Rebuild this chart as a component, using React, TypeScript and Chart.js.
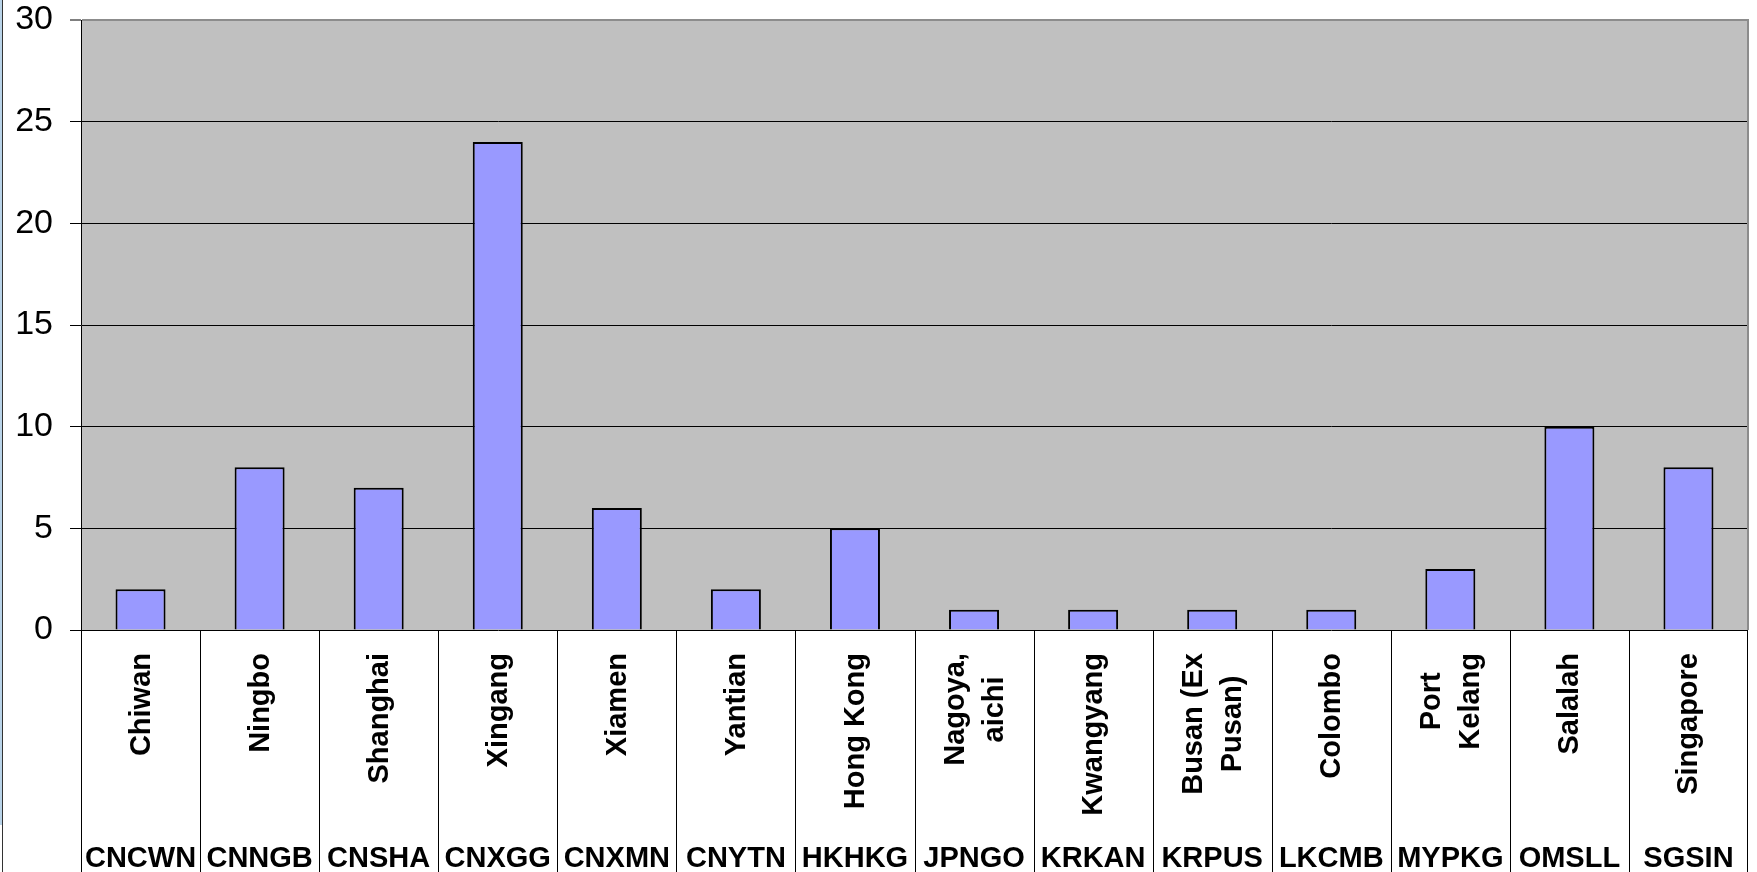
import React, { useEffect, useRef } from "react";
import { Chart, registerables } from "chart.js";

Chart.register(...registerables);

// Port names (line breaks split the rotated label into lines)
const portNames: string[] = [
  "Chiwan",
  "Ningbo",
  "Shanghai",
  "Xingang",
  "Xiamen",
  "Yantian",
  "Hong Kong",
  "Nagoya,\naichi",
  "Kwangyang",
  "Busan (Ex\nPusan)",
  "Colombo",
  "Port\nKelang",
  "Salalah",
  "Singapore",
];

// UN/LOCODE for each port
const portCodes: string[] = [
  "CNCWN",
  "CNNGB",
  "CNSHA",
  "CNXGG",
  "CNXMN",
  "CNYTN",
  "HKHKG",
  "JPNGO",
  "KRKAN",
  "KRPUS",
  "LKCMB",
  "MYPKG",
  "OMSLL",
  "SGSIN",
];

const callCounts: number[] = [2, 8, 7, 24, 6, 2, 5, 1, 1, 1, 1, 3, 10, 8];

const yTicks: number[] = [0, 5, 10, 15, 20, 25, 30];

const FONT = "'Liberation Sans', Arial, sans-serif";

const frameAndLabels = {
  id: "frameAndLabels",
  beforeDraw(chart: any) {
    const { ctx, chartArea } = chart;
    ctx.save();
    ctx.fillStyle = "#C0C0C0";
    ctx.fillRect(
      chartArea.left,
      chartArea.top,
      chartArea.right - chartArea.left,
      chartArea.bottom - chartArea.top
    );
    ctx.restore();
  },
  afterDraw(chart: any) {
    const { ctx, chartArea, height } = chart;
    const xs = chart.scales.x;
    const n = portNames.length;
    ctx.save();

    // right edge of the plot frame
    ctx.strokeStyle = "#8C8C8C";
    ctx.lineWidth = 2;
    ctx.beginPath();
    ctx.moveTo(chartArea.right, chartArea.top - 1);
    ctx.lineTo(chartArea.right, chartArea.bottom);
    ctx.stroke();

    // category separators below the axis
    const bounds: number[] = [];
    for (let i = 0; i <= n; i++) {
      let x: number;
      if (i === 0) x = chartArea.left;
      else if (i === n) x = chartArea.right;
      else x = (xs.getPixelForValue(i - 1) + xs.getPixelForValue(i)) / 2;
      bounds.push(x);
    }
    ctx.strokeStyle = "#000";
    ctx.lineWidth = 1;
    bounds.forEach((x, i) => {
      const px = Math.round(x) + (i === n ? -0.5 : 0.5);
      ctx.beginPath();
      ctx.moveTo(px, chartArea.bottom);
      ctx.lineTo(px, height);
      ctx.stroke();
    });

    // rotated port names
    ctx.fillStyle = "#000";
    ctx.font = `bold 29px ${FONT}`;
    ctx.textAlign = "center";
    ctx.textBaseline = "middle";
    const lineH = 39;
    portNames.forEach((name, i) => {
      const lines = name.split("\n");
      const maxW = Math.max(...lines.map((l) => ctx.measureText(l).width));
      const cx = xs.getPixelForValue(i);
      const cy = chartArea.bottom + 23 + maxW / 2;
      ctx.save();
      ctx.translate(cx + 1, cy);
      ctx.rotate(-Math.PI / 2);
      lines.forEach((l, j) => {
        ctx.fillText(l, 0, (j - (lines.length - 1) / 2) * lineH);
      });
      ctx.restore();
    });

    // port codes along the bottom
    ctx.textBaseline = "alphabetic";
    portCodes.forEach((code, i) => {
      ctx.fillText(code, xs.getPixelForValue(i), 867);
    });

    // left page frame
    ctx.fillStyle = "#B9D3E8";
    ctx.fillRect(0, 0, 2, 825);
    ctx.fillStyle = "#333";
    ctx.fillRect(2, 0, 1, height);

    ctx.restore();
  },
};

export default function App() {
  const canvasRef = useRef<HTMLCanvasElement | null>(null);

  useEffect(() => {
    if (!canvasRef.current) return;
    const chart = new Chart(canvasRef.current, {
      type: "bar",
      data: {
        labels: portNames.map((p) => p.replace("\n", " ")),
        datasets: [
          {
            data: callCounts,
            backgroundColor: "#9999FF",
            borderColor: "#000",
            borderWidth: 2,
            categoryPercentage: 1,
            barPercentage: 0.42,
          },
        ],
      },
      options: {
        responsive: false,
        animation: false,
        devicePixelRatio: 1,
        layout: { padding: { top: 20, right: 9, left: 0, bottom: 0 } },
        plugins: {
          legend: { display: false },
          tooltip: { enabled: false },
        },
        scales: {
          x: {
            type: "category",
            offset: true,
            ticks: { display: false },
            grid: { display: false },
            border: { display: false },
            afterFit: (scale: any) => {
              scale.height = 242;
              scale.paddingLeft = 0;
              scale.paddingRight = 0;
            },
          },
          y: {
            min: yTicks[0],
            max: yTicks[yTicks.length - 1],
            afterBuildTicks: (scale: any) => {
              scale.ticks = yTicks.map((v) => ({ value: v }));
            },
            ticks: {
              color: "#000",
              padding: 17,
              font: { family: FONT, size: 34 },
            },
            grid: {
              color: (c: any) =>
                c.tick && c.tick.value === 30 ? "#8C8C8C" : "#000",
              lineWidth: (c: any) => (c.tick && c.tick.value === 30 ? 2 : 1),
              tickColor: "#000",
              tickLength: 11,
              tickWidth: 1,
            },
            border: { display: true, color: "#000", width: 1 },
            afterFit: (scale: any) => {
              scale.width = 81;
              scale.paddingTop = 0;
              scale.paddingBottom = 0;
            },
          },
        },
      },
      plugins: [frameAndLabels],
    });
    return () => chart.destroy();
  }, []);

  return (
    <div
      style={{
        position: "fixed",
        left: 0,
        top: 0,
        width: 1757,
        height: 872,
        background: "#fff",
      }}
    >
      <canvas ref={canvasRef} width={1757} height={872} />
    </div>
  );
}
